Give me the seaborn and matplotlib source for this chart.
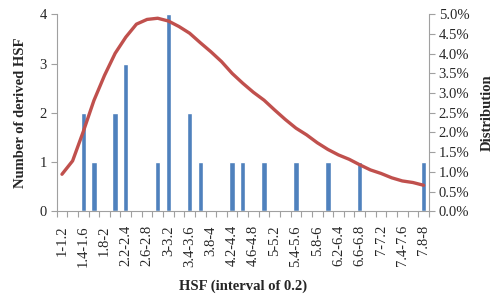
import numpy as np
import pandas as pd
import matplotlib
matplotlib.use("Agg")
import matplotlib.pyplot as plt
from matplotlib.ticker import FixedLocator, FuncFormatter
import seaborn as sns

# ---- data ----
edges = [round(1 + 0.2 * i, 1) for i in range(36)]
def fmt(v):
    return ("%g" % v)
categories = [f"{fmt(edges[i])}-{fmt(edges[i+1])}" for i in range(35)]
counts = [0, 0, 2, 1, 0, 2, 3, 0, 0, 1, 4, 0, 2, 1, 0, 0, 1, 1, 0, 1,
          0, 0, 1, 0, 0, 1, 0, 0, 1, 0, 0, 0, 0, 0, 1]
distribution = [0.94, 1.28, 2.02, 2.81, 3.45, 4.01, 4.42, 4.75, 4.87, 4.90,
                4.83, 4.69, 4.52, 4.28, 4.05, 3.80, 3.50, 3.25, 3.02, 2.82,
                2.57, 2.33, 2.11, 1.94, 1.74, 1.57, 1.43, 1.32, 1.18, 1.05,
                0.96, 0.85, 0.77, 0.73, 0.66]

df = pd.DataFrame({"cat": categories, "count": counts,
                   "idx": np.arange(len(categories)),
                   "dist": distribution})

sns.set_theme(style="white")
plt.rcParams['font.family'] = ['Liberation Serif', 'DejaVu Serif']

FS = 10.5
fig = plt.figure(figsize=(4.97, 2.98), dpi=100)
ax = fig.add_axes([0.114, 0.291, 0.749, 0.661])

sns.barplot(data=df, x="cat", y="count", order=categories, color="#4F81BD",
            saturation=1, width=0.5, ax=ax)
ax.set_xlim(-0.5, len(categories) - 0.5)
ax.set_ylim(0, 4)
ax.set_yticks([0, 1, 2, 3, 4])

ax2 = ax.twinx()
sns.lineplot(data=df, x="idx", y="dist", color="#C0504D", linewidth=2.4, ax=ax2)
ax2.set_ylim(0, 5)
ax2.set_yticks(np.arange(0, 5.01, 0.5))
ax2.yaxis.set_major_formatter(FuncFormatter(lambda v, p: f"{v:.1f}%"))
ax2.set_xlim(-0.5, len(categories) - 0.5)

# x ticks: labels every other category, tick marks on boundaries
ax.set_xticks(np.arange(0, len(categories), 2))
ax.set_xticklabels(categories[::2], rotation=90, fontsize=FS)
ax.xaxis.set_minor_locator(FixedLocator(np.arange(-0.5, len(categories), 1)))
ax.tick_params(axis="x", which="major", length=0, pad=10)
ax.tick_params(axis="x", which="minor", length=4, width=0.8, color="#A0A0A0",
               direction="out", bottom=True)
ax.tick_params(axis="y", length=4, width=0.8, color="#A0A0A0", labelsize=FS,
               direction="out", left=True, pad=3)
ax2.tick_params(axis="y", length=4, width=0.8, color="#A0A0A0", labelsize=FS,
                direction="out", right=True, pad=3)

for a in (ax, ax2):
    for s in ["left", "right", "bottom"]:
        a.spines[s].set_color("#A0A0A0")
        a.spines[s].set_linewidth(0.8)
    a.spines["top"].set_visible(False)
ax.spines["right"].set_visible(False)
ax2.spines["left"].set_visible(False)
ax2.spines["bottom"].set_visible(False)

ax.set_xlabel("HSF (interval of 0.2)", fontsize=FS, fontweight="bold", labelpad=9)
ax.set_ylabel("Number of derived HSF", fontsize=FS, fontweight="bold", labelpad=9)
ax2.set_ylabel("Distribution", fontsize=FS, fontweight="bold", labelpad=8,
               rotation=90)

fig.savefig("out.png", dpi=100)
